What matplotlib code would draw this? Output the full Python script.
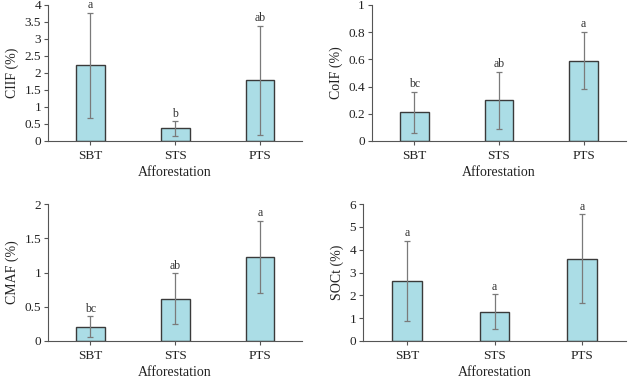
import numpy as np
import matplotlib.pyplot as plt

plt.rcParams['font.family'] = ['Liberation Serif', 'DejaVu Serif']

sites = ['SBT', 'STS', 'PTS']

ciif = [2.22, 0.37, 1.78]
ciif_err = [1.55, 0.21, 1.60]
ciif_let = ['a', 'b', 'ab']

coif = [0.21, 0.30, 0.59]
coif_err = [0.15, 0.21, 0.21]
coif_let = ['bc', 'ab', 'a']

cmaf = [0.21, 0.62, 1.23]
cmaf_err = [0.15, 0.37, 0.53]
cmaf_let = ['bc', 'ab', 'a']

soct = [2.63, 1.28, 3.60]
soct_err = [1.77, 0.76, 1.95]
soct_let = ['a', 'a', 'a']

panels = [
    (ciif, ciif_err, ciif_let, 'CIIF (%)', 4, 0.5, [0.0764, 0.627, 0.405, 0.360]),
    (coif, coif_err, coif_let, 'CoIF (%)', 1, 0.2, [0.592, 0.627, 0.405, 0.360]),
    (cmaf, cmaf_err, cmaf_let, 'CMAF (%)', 2, 0.5, [0.0764, 0.098, 0.405, 0.362]),
    (soct, soct_err, soct_let, 'SOCt (%)', 6, 1, [0.578, 0.098, 0.419, 0.362]),
]

fig = plt.figure(figsize=(6.28, 3.78), dpi=100)
x = np.arange(len(sites))

for vals, err, lets, ylab, ymax, step, rect in panels:
    ax = fig.add_axes(rect)
    ax.bar(x, vals, width=0.34, color='#abdde6', edgecolor='#3a3a3a', linewidth=1.0, zorder=2)
    ax.errorbar(x, vals, yerr=err, fmt='none', ecolor='#7a7a7a', elinewidth=0.9,
                capsize=2, capthick=0.9, zorder=3)
    for xi, v, e, l in zip(x, vals, err, lets):
        ax.text(xi, v + e + ymax * 0.012, l, ha='center', va='bottom', fontsize=8.5, color='#333333')
    ax.set_xlim(-0.5, 2.5)
    ax.set_ylim(0, ymax)
    ax.set_yticks(np.arange(0, ymax + step / 2, step))
    ax.set_yticklabels(['%g' % t for t in np.arange(0, ymax + step / 2, step)])
    ax.set_xticks(x)
    ax.set_xticklabels(sites)
    ax.spines['top'].set_visible(False)
    ax.spines['right'].set_visible(False)
    ax.spines['left'].set_color('#555555')
    ax.spines['bottom'].set_color('#555555')
    ax.tick_params(axis='both', colors='#555555', labelcolor='#222222', labelsize=9.5, length=3, width=0.8)
    ax.tick_params(axis='y', pad=2)
    ax.set_ylabel(ylab, fontsize=10, color='#222222', labelpad=4)
    ax.set_xlabel('Afforestation', fontsize=10, color='#222222', labelpad=3)

plt.savefig('out.png', dpi=100)
